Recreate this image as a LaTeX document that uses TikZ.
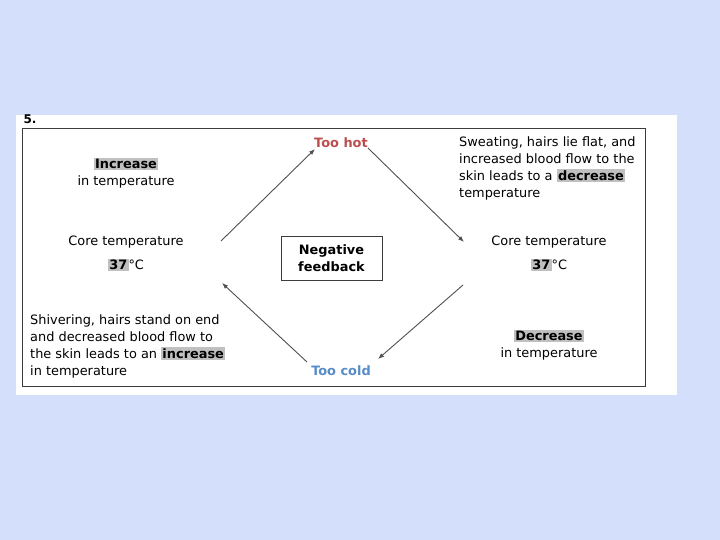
\documentclass[tikz,border=0pt]{standalone}
\usepackage{fontspec}
\setmainfont{DejaVu Sans}
\usetikzlibrary{arrows.meta, positioning, calc}
\definecolor{SlideBlue}{RGB}{211,223,251}
\definecolor{FrameGray}{RGB}{60,60,60}
\definecolor{ArrowGray}{RGB}{80,80,80}
\definecolor{HotRed}{RGB}{188,78,78}
\definecolor{ColdBlue}{RGB}{88,140,200}
\definecolor{MarkGray}{RGB}{192,192,192}
\newcommand{\marked}[1]{{\setlength{\fboxsep}{1.3pt}\colorbox{MarkGray}{\textbf{#1}}}}
\tikzset{
  txt/.style={font=\fontsize{12.9}{17}\selectfont, inner sep=0pt, align=center},
  flow/.style={-{Latex[length=6pt,width=4.5pt]}, ArrowGray, line width=0.9pt},
}

\begin{document}
\begin{tikzpicture}[x=1pt, y=-1pt]
          \fill[SlideBlue] (0,0) rectangle (720,540);
          \fill[white] (16,115) rectangle (677,395);
          \draw[FrameGray, line width=0.9pt] (22,128) rectangle (645,386);
          \node[font=\bfseries\fontsize{12}{12}\selectfont, inner sep=0pt] (num) at (30,119) {5.};
          \node[txt] (incr) at (126,173) {\marked{Increase}\\in temperature};
          \node[txt, font=\bfseries\fontsize{12.9}{17}\selectfont, HotRed] (hot) at (341,143) {Too hot};
          \node[txt, align=left, anchor=west] (sweat) at (459,168.5) {Sweating, hairs lie flat, and\\increased blood flow to the\\skin leads to a \marked{decrease}\\temperature};
          \node[txt] (lcore) at (126,253.5) {Core temperature\\[7pt]\marked{37}°C};
          \node[txt] (rcore) at (549,253.5) {Core temperature\\[7pt]\marked{37}°C};
          \node[txt, draw=FrameGray, line width=0.8pt, font=\bfseries\fontsize{12.9}{17}\selectfont, minimum width=101pt, minimum height=44pt] (nf) at (331.5,258) {Negative\\feedback};
          \node[txt, align=left, anchor=west] (shiver) at (30,346.5) {Shivering, hairs stand on end\\and decreased blood flow to\\the skin leads to an \marked{increase}\\in temperature};
          \node[txt] (decr) at (549,345) {\marked{Decrease}\\in temperature};
          \node[txt, font=\bfseries\fontsize{12.9}{17}\selectfont, ColdBlue] (cold) at (341,371) {Too cold};
          \draw[flow] ($(lcore)+(95,-12.5)$) -- ($(hot)+(-26,6)$);
          \draw[flow] ($(hot)+(27,5)$) -- ($(rcore)+(-85,-11.5)$);
          \draw[flow] ($(rcore)+(-86,31.5)$) -- ($(cold)+(37,-12)$);
          \draw[flow] ($(cold)+(-34,-9)$) -- ($(lcore)+(96,29.5)$);
        \end{tikzpicture}
\end{document}
